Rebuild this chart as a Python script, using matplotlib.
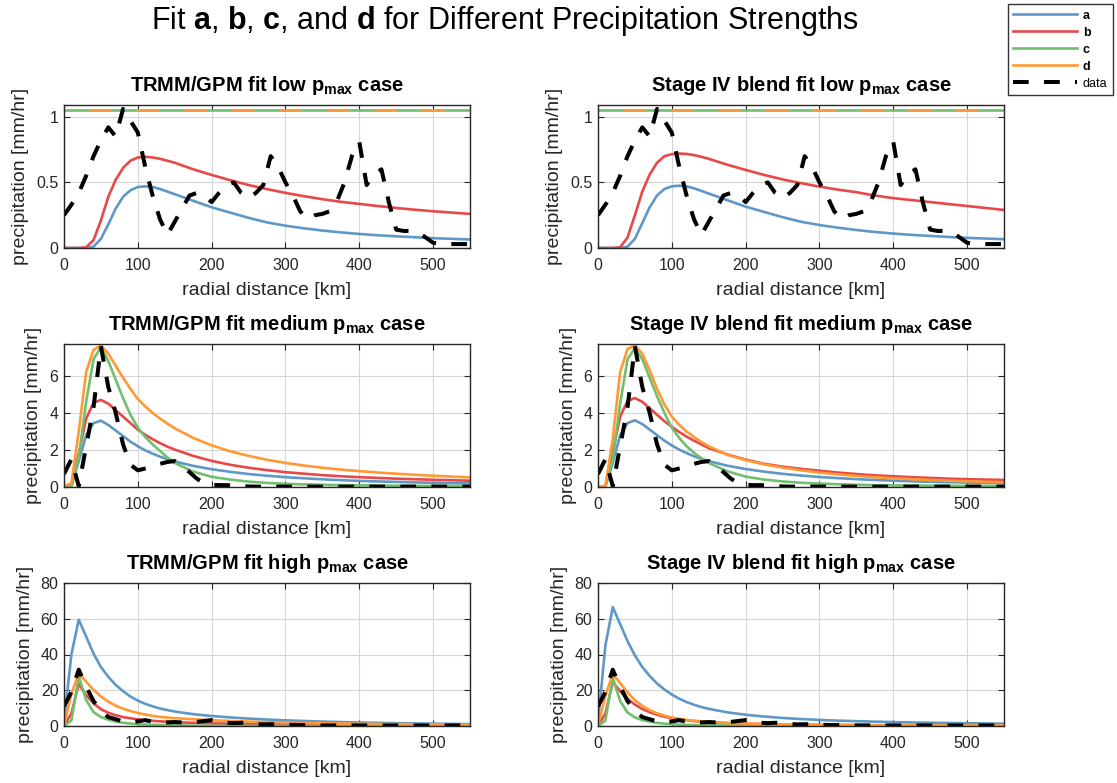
import numpy as np
import matplotlib.pyplot as plt
from matplotlib.ticker import FuncFormatter

plt.rcParams['font.family'] = ['Liberation Sans', 'DejaVu Sans']
plt.rcParams['mathtext.fontset'] = 'custom'
plt.rcParams['mathtext.rm'] = 'Liberation Sans'
plt.rcParams['mathtext.bf'] = 'Liberation Sans:bold'
plt.rcParams['mathtext.it'] = 'Liberation Sans:italic'

# radial distance grids [km]
r_obs = list(range(0, 551, 10))
r_fit = [0, 10, 20, 30, 40, 50, 60, 70, 80, 90, 100, 110, 120, 130, 140, 150,
         175, 200, 225, 250, 275, 300, 325, 350, 375, 400, 425, 450, 475, 500, 525, 550]

# observed composite profiles [mm/hr]
obs_low = [0.25, 0.33, 0.42, 0.55, 0.70, 0.82, 0.92, 0.85, 1.06, 0.97,
           0.88, 0.62, 0.40, 0.22, 0.10, 0.20, 0.30, 0.40, 0.42, 0.40,
           0.35, 0.42, 0.48, 0.50, 0.42, 0.38, 0.42, 0.48, 0.70, 0.62,
           0.50, 0.40, 0.28, 0.22, 0.25, 0.26, 0.28, 0.36, 0.50, 0.70,
           0.81, 0.48, 0.56, 0.60, 0.35, 0.14, 0.13, 0.13, 0.12, 0.08,
           0.04, 0.03, 0.03, 0.03, 0.03, 0.03]
obs_med = [0.7, 1.5, 0.05, 2.2, 4.3, 7.6, 5.4, 4.0, 2.3, 1.2,
           0.9, 1.0, 1.1, 1.25, 1.35, 1.4, 1.15, 0.8, 0.45, 0.2,
           0.12, 0.1, 0.1, 0.08, 0.05, 0.03, 0.02, 0.02, 0.02, 0.02,
           0.02, 0.02, 0.02, 0.02, 0.02, 0.02, 0.02, 0.02, 0.02, 0.02,
           0.02, 0.02, 0.02, 0.02, 0.02, 0.02, 0.02, 0.02, 0.02, 0.02,
           0.02, 0.02, 0.02, 0.02, 0.02, 0.02]
obs_high = [11, 19, 31.5, 22, 14, 8.5, 5, 3.8, 2.5, 2.0,
            2.6, 3.3, 2.4, 1.8, 2.0, 2.2, 2.0, 1.8, 2.3, 2.8,
            3.3, 2.3, 1.8, 1.6, 1.8, 1.6, 1.1, 0.9, 1.0, 0.9,
            0.8, 0.6, 0.5, 0.5, 0.4, 0.3, 0.3, 0.3, 0.3, 0.3,
            0.3, 0.3, 0.3, 0.3, 0.3, 0.3, 0.3, 0.3, 0.3, 0.3,
            0.3, 0.3, 0.3, 0.3, 0.3, 0.3]

# TRMM/GPM fits
a_low_trmm = [0, 0, 0, 0, 0.01, 0.07, 0.18, 0.30, 0.39, 0.44, 0.465, 0.47, 0.465, 0.45, 0.43, 0.41,
              0.36, 0.31, 0.27, 0.23, 0.195, 0.17, 0.15, 0.133, 0.119, 0.107, 0.097, 0.089, 0.082, 0.075, 0.07, 0.065]
b_low_trmm = [0, 0, 0, 0.005, 0.06, 0.21, 0.39, 0.52, 0.61, 0.665, 0.69, 0.695, 0.69, 0.68, 0.665, 0.65,
              0.60, 0.557, 0.517, 0.48, 0.449, 0.42, 0.395, 0.372, 0.352, 0.336, 0.32, 0.305, 0.292, 0.28, 0.27, 0.26]
c_low_trmm = 1.05
d_low_trmm = 1.05

a_med_trmm = [0, 0.05, 1.4, 2.8, 3.45, 3.58, 3.35, 3.05, 2.75, 2.45, 2.2, 1.98, 1.8, 1.64, 1.5, 1.38,
              1.14, 0.96, 0.82, 0.70, 0.61, 0.53, 0.47, 0.415, 0.37, 0.33, 0.30, 0.275, 0.25, 0.23, 0.21, 0.195]
b_med_trmm = [0, 0.05, 1.8, 3.7, 4.55, 4.7, 4.5, 4.15, 3.8, 3.45, 3.1, 2.82, 2.58, 2.37, 2.18, 2.02,
              1.68, 1.41, 1.2, 1.04, 0.91, 0.80, 0.72, 0.64, 0.58, 0.53, 0.49, 0.45, 0.42, 0.39, 0.365, 0.34]
c_med_trmm = [0, 0.05, 1.6, 4.6, 6.9, 7.55, 6.8, 5.8, 4.8, 3.9, 3.2, 2.7, 2.3, 1.95, 1.6, 1.3,
              0.83, 0.55, 0.4, 0.29, 0.22, 0.17, 0.14, 0.12, 0.1, 0.09, 0.08, 0.07, 0.065, 0.06, 0.055, 0.05]
d_med_trmm = [0.05, 0.2, 3.0, 6.2, 7.4, 7.65, 7.2, 6.55, 5.9, 5.3, 4.75, 4.35, 4.0, 3.7, 3.42, 3.17,
              2.65, 2.25, 1.93, 1.68, 1.47, 1.3, 1.16, 1.04, 0.94, 0.86, 0.78, 0.72, 0.66, 0.61, 0.56, 0.52]

a_high_trmm = [2, 40, 59.5, 50, 40.5, 33, 27.5, 23, 19.5, 16.5, 14.2, 12.4, 11, 9.8, 8.9, 8.1,
               6.6, 5.6, 4.8, 4.15, 3.6, 3.15, 2.8, 2.45, 2.2, 1.95, 1.76, 1.58, 1.44, 1.3, 1.18, 1.08]
b_high_trmm = [0, 7, 23.5, 17.3, 12.6, 9.4, 7.4, 6.0, 5.0, 4.3, 3.7, 3.25, 2.9, 2.6, 2.35, 2.15,
               1.75, 1.5, 1.28, 1.12, 0.98, 0.87, 0.78, 0.7, 0.63, 0.57, 0.52, 0.48, 0.44, 0.4, 0.37, 0.35]
c_high_trmm = [0, 3, 28, 14.5, 7.8, 5, 3.5, 2.5, 1.8, 1.35, 1.0, 0.8, 0.65, 0.53, 0.44, 0.37,
               0.25, 0.18, 0.14, 0.11, 0.09, 0.07, 0.06, 0.05, 0.045, 0.04, 0.035, 0.03, 0.03, 0.025, 0.025, 0.02]
d_high_trmm = [0, 18, 29.5, 24.8, 20.2, 16.5, 13.6, 11.4, 9.7, 8.4, 7.3, 6.4, 5.7, 5.1, 4.7, 4.35,
               3.75, 3.25, 2.8, 2.45, 2.15, 1.9, 1.7, 1.52, 1.37, 1.24, 1.13, 1.03, 0.95, 0.88, 0.81, 0.75]

# Stage IV blend fits
a_low_st4 = [0, 0, 0, 0, 0.01, 0.07, 0.19, 0.31, 0.40, 0.45, 0.47, 0.475, 0.47, 0.455, 0.435, 0.415,
             0.365, 0.315, 0.275, 0.235, 0.2, 0.175, 0.155, 0.137, 0.122, 0.11, 0.1, 0.092, 0.084, 0.077, 0.072, 0.067]
b_low_st4 = [0, 0, 0, 0.005, 0.08, 0.25, 0.43, 0.56, 0.65, 0.70, 0.715, 0.72, 0.717, 0.708, 0.695, 0.68,
             0.635, 0.595, 0.557, 0.523, 0.494, 0.468, 0.445, 0.425, 0.40, 0.38, 0.365, 0.35, 0.335, 0.32, 0.305, 0.29]
c_low_st4 = 1.05
d_low_st4 = 1.05

a_med_st4 = [0, 0.03, 1.3, 2.8, 3.45, 3.6, 3.4, 3.1, 2.8, 2.5, 2.24, 2.02, 1.83, 1.66, 1.52, 1.4,
             1.15, 0.97, 0.83, 0.71, 0.62, 0.54, 0.48, 0.425, 0.38, 0.34, 0.31, 0.28, 0.26, 0.24, 0.22, 0.205]
b_med_st4 = [0, 0.03, 1.9, 3.8, 4.65, 4.8, 4.6, 4.25, 3.9, 3.55, 3.25, 2.97, 2.72, 2.5, 2.3, 2.1,
             1.76, 1.48, 1.25, 1.1, 0.98, 0.88, 0.78, 0.70, 0.63, 0.58, 0.53, 0.49, 0.45, 0.42, 0.4, 0.38]
c_med_st4 = [0, 0.03, 1.5, 4.5, 6.9, 7.5, 6.9, 5.9, 4.9, 4.0, 3.2, 2.65, 2.2, 1.85, 1.55, 1.3,
             0.85, 0.56, 0.4, 0.3, 0.23, 0.18, 0.15, 0.12, 0.1, 0.09, 0.08, 0.07, 0.065, 0.06, 0.055, 0.05]
d_med_st4 = [0, 0.05, 2.6, 6.2, 7.45, 7.65, 7.2, 6.3, 5.3, 4.45, 3.8, 3.35, 3.0, 2.7, 2.43, 2.2,
             1.74, 1.45, 1.22, 1.05, 0.9, 0.78, 0.68, 0.6, 0.53, 0.47, 0.42, 0.38, 0.34, 0.31, 0.28, 0.26]

a_high_st4 = [2, 45, 66.5, 57, 47.5, 39.5, 33, 28, 23.8, 20.4, 17.6, 15.3, 13.4, 11.9, 10.6, 9.6,
              7.65, 6.3, 5.3, 4.5, 3.9, 3.4, 3.0, 2.7, 2.42, 2.18, 1.98, 1.81, 1.66, 1.53, 1.42, 1.32]
b_high_st4 = [0, 7, 24.5, 19.5, 15.2, 12, 9.5, 7.7, 6.3, 5.2, 4.4, 3.7, 3.2, 2.75, 2.4, 2.1,
              1.6, 1.25, 1.0, 0.83, 0.7, 0.6, 0.52, 0.46, 0.41, 0.37, 0.33, 0.3, 0.28, 0.26, 0.24, 0.23]
c_high_st4 = [0, 3, 27, 14, 7.5, 4.8, 3.3, 2.4, 1.75, 1.3, 1.0, 0.8, 0.65, 0.53, 0.44, 0.37,
              0.25, 0.18, 0.14, 0.11, 0.09, 0.07, 0.06, 0.05, 0.045, 0.04, 0.035, 0.03, 0.03, 0.025, 0.025, 0.02]
d_high_st4 = [0, 17, 29, 24, 18.8, 14.5, 11.3, 8.9, 7.1, 5.8, 4.8, 4.0, 3.4, 2.95, 2.6, 2.3,
              1.75, 1.38, 1.12, 0.93, 0.8, 0.7, 0.62, 0.55, 0.49, 0.44, 0.4, 0.36, 0.33, 0.3, 0.28, 0.26]

colors = {'a': '#5f98c6', 'b': '#e94849', 'c': '#71bf6e', 'd': '#ff9933'}
ink = '#262626'

fig = plt.figure(figsize=(11.17, 7.83), dpi=100)
W, H = 1117, 783

col_x = [64, 598]
row_y = [248, 487, 726]      # pixel row of the x axis
ax_w, ax_h = 406, 143


def make_axes(col, row):
    left = col_x[col] / W
    bottom = (H - row_y[row]) / H
    return fig.add_axes([left, bottom, ax_w / W, ax_h / H])


def draw_panel(ax, fits, obs, ylim, yticks, title, flat_cd=False):
    for key in 'abcd':
        vals = fits[key]
        if flat_cd and key in 'cd':
            vals = np.full(len(r_fit), vals)
        if flat_cd and key == 'd':
            ax.plot(r_fit, vals, color=colors[key], lw=1.9,
                    linestyle=(8.6, (8.6, 9.4)), dash_capstyle='butt')
        else:
            ax.plot(r_fit, vals, color=colors[key], lw=1.9)
    ax.plot(r_obs, obs, color='k', lw=2.9, dashes=(3.9, 3.8))

    ax.set_xlim(0, 550)
    ax.set_ylim(*ylim)
    ax.set_xticks([0, 100, 200, 300, 400, 500])
    ax.set_yticks(yticks)
    ax.yaxis.set_major_formatter(FuncFormatter(lambda v, p: '%g' % v))
    ax.grid(True, color='#d6d6d6', lw=0.8)
    ax.set_axisbelow(True)
    ax.tick_params(direction='in', length=4, width=0.8, top=True, right=True,
                   labelsize=11.5, colors=ink)
    ax.tick_params(axis='x', pad=7.5)
    ax.tick_params(axis='y', pad=4)
    for s in ax.spines.values():
        s.set_linewidth(1.0)
        s.set_color(ink)
    ax.set_xlabel('radial distance [km]', fontsize=14, color=ink, labelpad=6)
    ax.set_ylabel('precipitation [mm/hr]', fontsize=14, color=ink, labelpad=5)
    ax.set_title(title, fontsize=14.5, fontweight='bold', pad=10)


panels = [
    (0, 0, {'a': a_low_trmm, 'b': b_low_trmm, 'c': c_low_trmm, 'd': d_low_trmm}, obs_low,
     (0, 1.09), [0, 0.5, 1], r'TRMM/GPM fit low $\mathbf{p_{max}}$ case', True),
    (1, 0, {'a': a_low_st4, 'b': b_low_st4, 'c': c_low_st4, 'd': d_low_st4}, obs_low,
     (0, 1.09), [0, 0.5, 1], r'Stage IV blend fit low $\mathbf{p_{max}}$ case', True),
    (0, 1, {'a': a_med_trmm, 'b': b_med_trmm, 'c': c_med_trmm, 'd': d_med_trmm}, obs_med,
     (0, 7.72), [0, 2, 4, 6], r'TRMM/GPM fit medium $\mathbf{p_{max}}$ case', False),
    (1, 1, {'a': a_med_st4, 'b': b_med_st4, 'c': c_med_st4, 'd': d_med_st4}, obs_med,
     (0, 7.72), [0, 2, 4, 6], r'Stage IV blend fit medium $\mathbf{p_{max}}$ case', False),
    (0, 2, {'a': a_high_trmm, 'b': b_high_trmm, 'c': c_high_trmm, 'd': d_high_trmm}, obs_high,
     (0, 80), [0, 20, 40, 60, 80], r'TRMM/GPM fit high $\mathbf{p_{max}}$ case', False),
    (1, 2, {'a': a_high_st4, 'b': b_high_st4, 'c': c_high_st4, 'd': d_high_st4}, obs_high,
     (0, 80), [0, 20, 40, 60, 80], r'Stage IV blend fit high $\mathbf{p_{max}}$ case', False),
]

for col, row, fits, obs, ylim, yticks, title, flat in panels:
    ax = make_axes(col, row)
    draw_panel(ax, fits, obs, ylim, yticks, title, flat)

# legend uses solid handles for every fit
leg_handles = [plt.Line2D([], [], color=colors[k], lw=1.9) for k in 'abcd']
leg_handles.append(plt.Line2D([], [], color='k', lw=2.9, dashes=(3.9, 3.8)))
leg = fig.legend(leg_handles, ['a', 'b', 'c', 'd', 'data'], loc='upper right',
                 bbox_to_anchor=(1113 / W, 1 - 4 / H), fontsize=9, frameon=True,
                 fancybox=False, edgecolor='k', handlelength=5.1, handletextpad=0.45,
                 labelspacing=0.4, borderpad=0.45, borderaxespad=0)
leg.get_frame().set_linewidth(1.0)
for t in leg.get_texts()[:4]:
    t.set_fontweight('bold')

fig.text(505 / W, 1 - 21 / H,
         r'Fit $\mathbf{a}$, $\mathbf{b}$, $\mathbf{c}$, and $\mathbf{d}$ for Different Precipitation Strengths',
         ha='center', va='center', fontsize=22)

fig.savefig('out.png', dpi=100)
